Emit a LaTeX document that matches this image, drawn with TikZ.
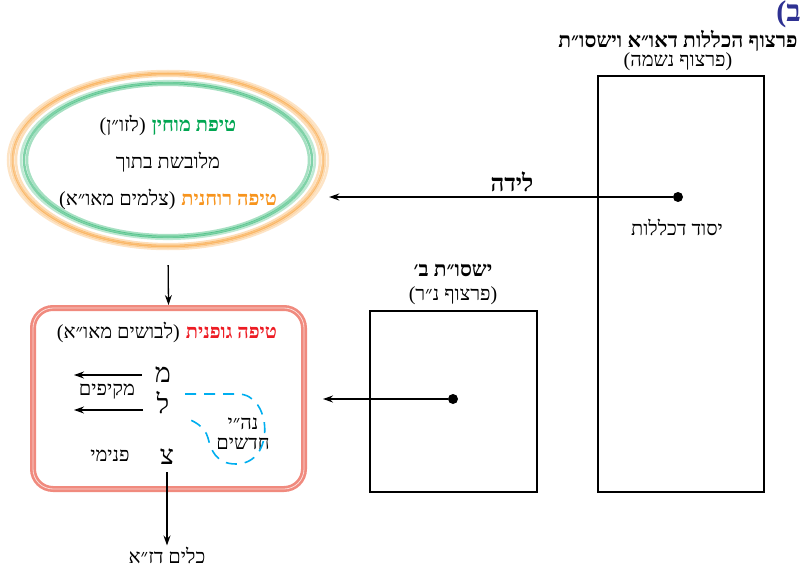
\documentclass[tikz,border=0pt]{standalone}
\usepackage{fontspec}
\usetikzlibrary{shapes.geometric,arrows.meta}
\newfontfamily\heb[Script=Hebrew]{Liberation Serif}
\TeXXeTstate=1
\newcommand{\hebtext}[1]{{\heb\beginR #1\endR}}
\newcommand{\hebbold}[2]{{\color{#1}\bfseries\hebtext{#2}}}
\definecolor{mochin}{HTML}{00A651}
\definecolor{ruach}{HTML}{F7941D}
\definecolor{guf}{HTML}{ED1C24}
\definecolor{gufline}{HTML}{F08A7E}
\definecolor{nhy}{HTML}{00AEEF}
\definecolor{letter}{HTML}{2E3192}
\tikzset{
        arr/.style={draw,line width=1.3pt,-{Stealth[length=10pt,width=7pt]}},
        box/.style={draw,line width=1.1pt,minimum width=#1},
        dot/.style={circle,fill,inner sep=0pt,minimum size=10pt},
        lbl/.style={font=\fontsize{20}{22}\selectfont,inner sep=1pt},
        ttl/.style={font=\fontsize{21}{23}\selectfont\bfseries,inner sep=1pt},
        big/.style={font=\fontsize{27}{27}\selectfont,inner sep=1pt}
}
\begin{document}
\begin{tikzpicture}[x=1pt,y=-1pt]
        \useasboundingbox (0,0) rectangle (801,567);
        \node[font=\fontsize{30}{30}\selectfont\bfseries,text=letter,inner sep=0pt,anchor=north east] (bet) at (801,0) {\hebtext{ב)}};

        \node[box=166pt,minimum height=416pt] (kelalut) at (681,284) {};
        \node[ttl] (kelalutT) at (678,41) {\hebtext{פרצוף הכללות דאו״א וישסו״ת}};
        \node[lbl] (kelalutS) at (678,62) {\hebtext{(פרצוף נשמה)}};
        \node[dot] (yesodDot) at (678,197) {};
        \node[lbl] (yesod) at (677,227) {\hebtext{יסוד דכללות}};

        \node[box=167pt,minimum height=181pt] (nr) at (453.5,401.5) {};
        \node[ttl] (nrT) at (453,270) {\hebtext{ישסו״ת ב׳}};
        \node[lbl] (nrS) at (453,296) {\hebtext{(פרצוף נ״ר)}};
        \node[dot] (nrDot) at (453,399) {};

        \node[ellipse,minimum width=322pt,minimum height=180pt] (tipaEll) at (168,160) {};
        \foreach \r/\o in {2/.35,0/.5,-3/.3,5/.25}
                \draw[ruach,line width=2.5pt,opacity=\o] (tipaEll.center) ellipse [x radius={155+\r}, y radius={86+\r*.6}];
        \foreach \r/\o in {0/.5,-3/.35,3/.25}
                \draw[mochin,line width=2.5pt,opacity=\o] (tipaEll.center) ellipse [x radius={144+\r}, y radius={77+\r*.6}];
        \node[lbl] (mochin) at (168,125) {\hebtext{(לזו״ן)}\ \hebbold{mochin}{טיפת מוחין}};
        \node[lbl] (malbush) at (168,162) {\hebtext{מלובשת בתוך}};
        \node[lbl] (ruchanit) at (168,199) {\hebtext{(צלמים מאו״א)}\ \hebbold{ruach}{טיפה רוחנית}};

        \node[draw=gufline,line width=6pt,rounded corners=20pt,minimum width=271pt,minimum height=181pt,
                postaction={draw=white,line width=.8pt,opacity=.7}] (gufRect) at (168.5,398.5) {};
        \node[lbl] (gufanit) at (167,332) {\hebtext{(לבושים מאו״א)}\ \hebbold{guf}{טיפה גופנית}};
        \node[big] (mem) at (163,375) {\hebtext{מ}};
        \node[big] (lamed) at (163,403) {\hebtext{ל}};
        \node[big] (tsadi) at (167,457) {\hebtext{צ}};
        \node[lbl] (makifim) at (107,392) {\hebtext{מקיפים}};
        \node[lbl] (pnimi) at (110,456) {\hebtext{פנימי}};
        \node[lbl,align=center] (nhyT) at (243,434) {\hebtext{נה״י}\\[-2pt]\hebtext{חדשים}};
        \coordinate (memEnd) at (74,375);
        \coordinate (lamStart) at (143,410);
        \coordinate (lamEnd) at (74,410);
        \draw[nhy,line width=1.6pt,dash pattern=on 11pt off 8pt]
                (185,394) -- (238,394) .. controls (272,394) and (276,464) .. (236,464)
                .. controls (216,464) and (211,450) .. (208,438) .. controls (205,426) and (192,420) .. (185,418);

        \node[lbl] (kelim) at (167,555) {\hebtext{כלים דז״א}};
        \node[font=\fontsize{24}{26}\selectfont\bfseries,inner sep=1pt] (leida) at (512,182) {\hebtext{לידה}};
        \coordinate (gufIn) at (323,399);

        \path[arr] (yesodDot) -- (yesodDot -| tipaEll.east);
        \path[arr,shorten <=15pt] (tipaEll.south) -- (gufRect.north);
        \path[arr] (nrDot) -- (gufIn);
        \path[arr,shorten <=12pt] (mem.west) -- (memEnd);
        \path[arr] (lamStart) -- (lamEnd);
        \path[arr,shorten <=6pt] (tsadi.south) -- (kelim.north);
\end{tikzpicture}
\end{document}
